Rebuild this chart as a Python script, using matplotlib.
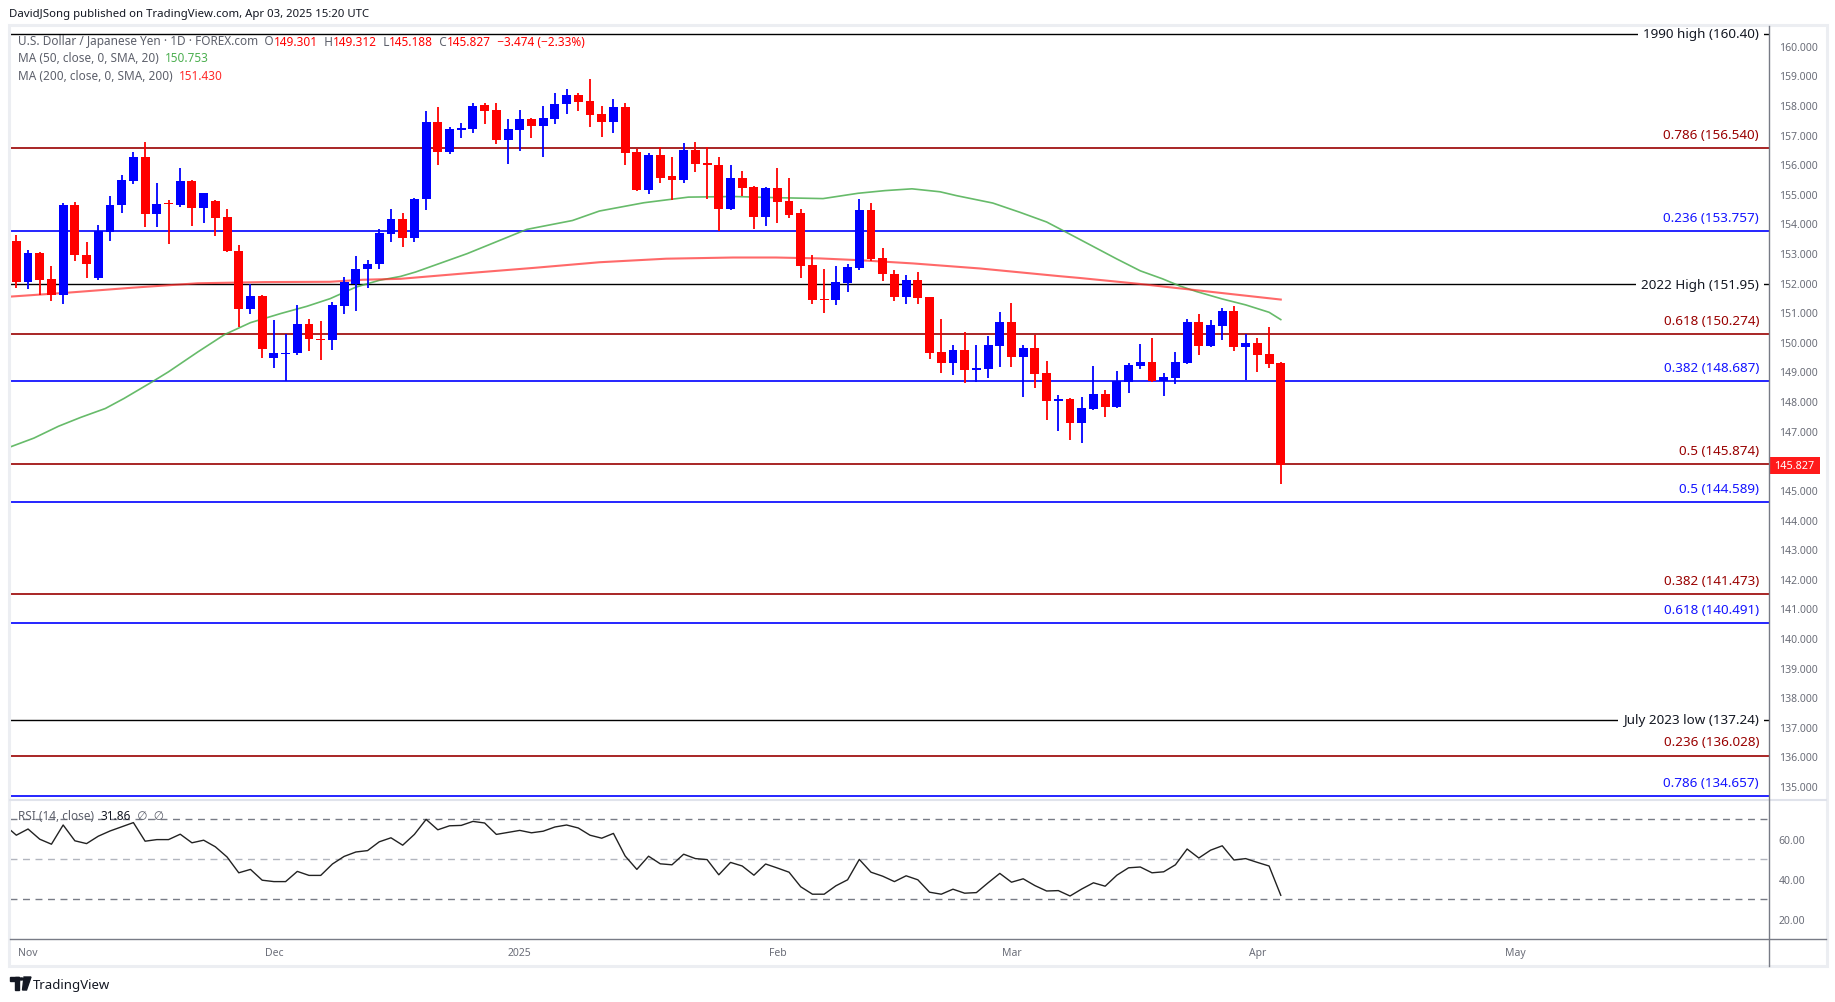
import numpy as np
import pandas as pd
import matplotlib
matplotlib.use('Agg')
import matplotlib.pyplot as plt
import matplotlib.transforms as mtransforms
from matplotlib.patches import Rectangle, Circle, Polygon
from matplotlib.lines import Line2D
from matplotlib.text import Annotation

plt.rcParams['font.family'] = ['Noto Sans', 'DejaVu Sans']

# daily USD/JPY candles, Oct 31 2024 .. Apr 03 2025 (FOREX.com, no bar on Dec 25 / Jan 1)
opens = [153.42, 152.01, 153.01, 152.14, 151.60, 154.63, 152.94, 152.15, 153.70, 154.61,
         155.44, 156.25, 154.33, 154.66, 154.63, 155.44, 154.51, 154.76, 154.23, 153.08,
         151.10, 151.56, 149.45, 149.60, 149.61, 150.62, 150.11, 150.06, 151.20, 151.97,
         152.45, 152.62, 153.65, 154.16, 153.50, 154.81, 157.43, 156.41, 157.17, 157.19,
         158.00, 157.83, 156.83, 157.17, 157.54, 157.30, 157.54, 158.02, 158.34, 158.12,
         157.70, 157.43, 157.93, 156.42, 155.14, 156.32, 155.60, 155.47, 156.48, 156.05,
         155.98, 154.50, 155.54, 155.24, 154.23, 155.20, 154.76, 154.34, 152.59, 151.42,
         151.41, 151.98, 152.50, 154.44, 152.82, 152.31, 151.51, 152.08, 151.51, 149.65,
         149.28, 149.71, 149.05, 149.08, 149.86, 150.66, 149.49, 149.81, 148.95, 147.99,
         148.08, 147.25, 147.75, 148.25, 147.79, 148.63, 149.20, 149.33, 148.69, 148.79,
         149.29, 150.68, 149.87, 150.54, 151.05, 149.83, 149.97, 149.60, 149.301]
highs = [153.62, 153.11, 153.05, 152.55, 154.70, 154.73, 153.38, 153.96, 154.93, 155.64,
         156.42, 156.76, 155.37, 154.80, 155.88, 155.47, 155.03, 154.79, 154.50, 153.26,
         151.96, 151.58, 150.75, 150.26, 151.23, 150.79, 150.72, 151.36, 152.20, 152.89,
         152.78, 153.82, 154.50, 154.36, 154.87, 157.80, 157.94, 157.27, 157.38, 158.06,
         158.06, 158.06, 157.53, 157.83, 157.56, 157.96, 158.41, 158.55, 158.41, 158.88,
         157.98, 158.20, 158.07, 156.52, 156.38, 156.58, 156.25, 156.72, 156.75, 156.58,
         156.25, 155.98, 155.78, 155.26, 155.24, 155.88, 155.54, 154.48, 152.92, 152.45,
         152.55, 152.62, 154.82, 154.68, 153.16, 152.42, 152.25, 152.35, 151.53, 150.76,
         149.88, 150.32, 149.91, 150.19, 151.00, 151.33, 149.88, 150.22, 149.35, 148.21,
         148.10, 148.15, 149.19, 148.38, 149.02, 149.30, 149.94, 150.14, 148.96, 149.67,
         150.78, 150.95, 150.75, 151.15, 151.22, 150.27, 150.14, 150.51, 149.312]
lows = [151.83, 151.80, 151.60, 151.37, 151.29, 152.72, 152.17, 152.10, 153.42, 154.36,
        155.35, 153.87, 153.87, 153.29, 154.54, 153.93, 154.00, 153.56, 153.02, 150.49,
        150.93, 149.47, 149.11, 148.69, 149.55, 149.69, 149.38, 149.72, 150.93, 151.03,
        151.81, 152.47, 153.36, 153.19, 153.36, 154.44, 155.96, 156.35, 156.90, 157.06,
        157.36, 156.70, 156.02, 156.46, 156.90, 156.25, 157.36, 157.70, 157.79, 157.26,
        156.93, 157.06, 155.96, 155.10, 155.00, 155.37, 154.78, 155.37, 155.74, 154.83,
        153.73, 154.47, 154.93, 153.80, 153.92, 154.02, 154.19, 152.15, 151.28, 150.97,
        151.25, 151.67, 152.42, 152.72, 152.04, 151.38, 151.28, 151.28, 149.42, 148.95,
        148.88, 148.61, 148.64, 148.78, 149.14, 149.15, 148.13, 148.44, 147.35, 146.98,
        146.67, 146.57, 147.69, 147.45, 147.76, 148.29, 149.10, 148.63, 148.18, 148.59,
        149.27, 149.56, 149.84, 150.07, 149.70, 148.72, 148.99, 149.13, 145.188]
closes = [152.01, 153.01, 152.10, 151.60, 154.63, 152.92, 152.62, 153.74, 154.63, 155.47,
          156.25, 154.33, 154.66, 154.65, 155.44, 154.51, 155.03, 154.20, 153.06, 151.10,
          151.56, 149.75, 149.61, 149.62, 150.62, 150.09, 150.07, 151.23, 152.01, 152.47,
          152.64, 153.69, 154.16, 153.50, 154.83, 157.43, 156.43, 157.19, 157.24, 157.98,
          157.81, 156.83, 157.19, 157.52, 157.30, 157.56, 158.02, 158.34, 158.10, 157.67,
          157.44, 157.93, 156.39, 155.14, 156.32, 155.53, 155.47, 156.48, 156.02, 155.96,
          154.50, 155.54, 155.21, 154.23, 155.20, 154.74, 154.29, 152.56, 151.41, 151.40,
          152.01, 152.52, 154.44, 152.79, 152.29, 151.51, 152.08, 151.48, 149.62, 149.28,
          149.71, 149.05, 149.11, 149.88, 150.66, 149.49, 149.81, 148.91, 148.00, 148.08,
          147.25, 147.78, 148.25, 147.79, 148.68, 149.23, 149.33, 148.69, 148.82, 149.33,
          150.68, 149.87, 150.58, 151.05, 149.83, 149.97, 149.56, 149.26, 145.827]

# moving averages as (bar, value) pairs
ma50_bar = [-0.6, 1.5, 3.6, 5.5, 7.6, 9.2, 11.6, 13.0, 15.5, 17.8, 20.0, 22.6, 24.8, 26.8,
            29.0, 31.0, 32.8, 34.1, 38.5, 43.6, 47.5, 49.8, 53.6, 57.4, 61.3, 65.1, 68.9,
            71.9, 74.2, 76.5, 78.9, 80.3, 83.4, 85.7, 88.0, 89.5, 91.8, 94.0, 96.0, 97.9,
            99.3, 100.8, 103.0, 105.0, 107.0, 108.0]
ma50_val = [146.44, 146.75, 147.15, 147.45, 147.75, 148.09, 148.65, 148.99, 149.66, 150.25,
            150.65, 150.96, 151.20, 151.46, 151.85, 152.08, 152.21, 152.36, 152.98, 153.80,
            154.10, 154.42, 154.70, 154.89, 154.91, 154.87, 154.84, 155.02, 155.11, 155.17,
            155.07, 154.94, 154.69, 154.38, 154.05, 153.74, 153.26, 152.80, 152.40, 152.13,
            151.90, 151.70, 151.45, 151.25, 151.00, 150.753]
ma200_bar = [-0.5, 4.3, 9.9, 15.5, 21.2, 26.8, 29.6, 32.8, 38.5, 44.2, 49.8, 55.5, 61.2,
             64.9, 68.6, 72.0, 76.6, 82.3, 89.1, 90.8, 95.9, 101.6, 108.0]
ma200_val = [151.53, 151.66, 151.83, 151.98, 152.02, 152.03, 152.10, 152.13, 152.32, 152.50,
             152.69, 152.81, 152.85, 152.85, 152.82, 152.76, 152.65, 152.48, 152.22, 152.16,
             151.96, 151.71, 151.43]

# RSI(14), first value belongs to the bar before Oct 31
rsi = [67.0,
       61.9, 65.0, 59.9, 57.4, 67.0, 59.1, 57.7, 61.4, 64.0, 66.1,
       68.2, 58.9, 59.7, 59.7, 62.4, 58.1, 59.4, 56.1, 51.0, 43.1,
       44.8, 39.4, 38.7, 38.7, 43.8, 41.8, 41.8, 47.5, 51.3, 53.5,
       54.2, 58.6, 60.6, 56.9, 62.3, 69.8, 64.6, 66.6, 66.8, 68.8,
       68.0, 62.3, 63.3, 64.3, 63.1, 63.9, 66.0, 67.0, 65.5, 61.9,
       60.4, 62.8, 51.5, 44.8, 51.4, 47.6, 47.1, 52.4, 50.2, 49.7,
       42.1, 48.3, 46.5, 41.9, 47.5, 45.5, 43.4, 36.1, 32.4, 32.4,
       36.6, 39.6, 49.8, 43.4, 41.4, 38.7, 41.6, 39.6, 33.4, 32.4,
       34.9, 32.9, 33.2, 38.1, 42.8, 38.4, 40.1, 36.7, 34.0, 34.2,
       31.5, 35.0, 38.1, 36.4, 41.9, 45.6, 46.0, 43.1, 43.6, 47.1,
       55.0, 50.5, 54.4, 56.6, 49.5, 50.2, 48.3, 46.5, 31.86]

fib_levels = [156.540, 153.757, 150.274, 148.687, 145.874, 144.589, 141.473, 140.491, 136.028, 134.657]
fib_ratios = ['0.786', '0.236', '0.618', '0.382', '0.5', '0.5', '0.382', '0.618', '0.236', '0.786']
fib_set = ['a', 'b', 'a', 'b', 'a', 'b', 'a', 'b', 'a', 'b']
key_levels = [160.40, 151.95, 137.24]
key_names = ['1990 high', '2022 High', 'July 2023 low']

month_labels = ['Nov', 'Dec', '2025', 'Feb', 'Mar', 'Apr', 'May']
month_starts = ['2024-11-01', '2024-12-02', '2025-01-02', '2025-02-03', '2025-03-03', '2025-04-01', '2025-05-01']

# trading calendar used for the bar index
cal = pd.bdate_range('2024-10-31', '2025-06-30')
cal = cal.drop(pd.to_datetime(['2024-12-25', '2025-01-01']))
month_pos = [cal.searchsorted(pd.Timestamp(d)) for d in month_starts]

W, H = 1835, 1003
UP, DOWN = '#0000ff', '#ff0000'
FIB_COL = {'a': '#990000', 'b': '#0000ff'}
GRAY = '#6a6d78'


def fx(x):
    return x / W


def fy(y):
    return 1 - y / H


fig = plt.figure(figsize=(W / 100, H / 100), dpi=100)
fig.patch.set_facecolor('white')

ax = fig.add_axes([fx(10), fy(800), fx(1769) - fx(10), fy(27) - fy(800)])
rx = fig.add_axes([fx(10), fy(940), fx(1769) - fx(10), fy(801) - fy(940)], sharex=ax)

# candles
o = np.array(opens)
c = np.array(closes)
hi = np.array(highs)
lo = np.array(lows)
xs = np.arange(len(o))
cols = np.where(c >= o, UP, DOWN)
ax.vlines(xs, lo, hi, colors=cols, linewidth=1.3, zorder=4)
body_lo = np.minimum(o, c)
body_h = np.maximum(np.abs(c - o), 0.04)
ax.bar(xs, body_h, bottom=body_lo, width=0.76, color=cols, linewidth=0, zorder=5)

# moving averages
ax.plot(ma50_bar, ma50_val, color='#4caf50', lw=1.2, alpha=0.85, zorder=3)
ax.plot(ma200_bar, ma200_val, color='#ff2a2a', lw=1.5, alpha=0.7, zorder=3)

# horizontal levels
lab_x = (1759 - 10) / (1769 - 10)
trans = mtransforms.blended_transform_factory(ax.transAxes, ax.transData)
for lv, r, s in zip(fib_levels, fib_ratios, fib_set):
    ax.axhline(lv, color=FIB_COL[s], lw=1.2, zorder=2)
    ax.annotate(f'{r} ({lv:.3f})', xy=(lab_x, lv), xycoords=trans, xytext=(0, 9.8),
                textcoords='offset points', ha='right', va='center', fontsize=9.7,
                color=FIB_COL[s] if s == 'a' else '#1414ff', zorder=6)
for lv, name in zip(key_levels, key_names):
    ax.axhline(lv, color='black', lw=1.0, zorder=2)
    ax.text(lab_x, lv, f'{name} ({lv:.2f})', transform=trans, ha='right', va='center',
            fontsize=9.7, color='#131722', zorder=6,
            bbox=dict(boxstyle='square,pad=0.35', fc='white', ec='none'))

ax.set_xlim(-0.54, 149.7)
ax.set_ylim(134.56, 160.67)
ax.set_yticks(np.arange(135, 161))
ax.set_yticklabels([f'{v:.3f}' for v in np.arange(135, 161)])
ax.yaxis.tick_right()
ax.tick_params(axis='y', length=0, pad=7, labelsize=7.5, labelcolor=GRAY)
ax.tick_params(axis='x', length=0, labelbottom=False)
for sp in ax.spines.values():
    sp.set_visible(False)

# last price tag
ax.add_patch(Rectangle((1.0, closes[-1] - 0.29), 51 / 1759, 0.58, transform=trans,
                       facecolor='#ff1a1a', edgecolor='none', clip_on=False, zorder=10))
ax.text(1.0 + 25 / 1759, closes[-1], f'{closes[-1]:.3f}', transform=trans, ha='center',
        va='center', fontsize=7.8, color='white', fontweight='bold', zorder=11)

# RSI pane
rx.plot(np.arange(-1, len(rsi) - 1), rsi, color='#222222', lw=1.0, zorder=3)
for lv, col in [(70, '#787b86'), (50, '#b2b5be'), (30, '#787b86')]:
    rx.axhline(lv, color=col, lw=1.0, linestyle=(0, (5, 4)), zorder=2)
rx.set_ylim(10, 79.5)
rx.set_yticks([20, 40, 60])
rx.set_yticklabels(['20.00', '40.00', '60.00'])
rx.yaxis.tick_right()
rx.tick_params(axis='y', length=0, pad=7, labelsize=7.5, labelcolor=GRAY)
rx.set_xticks(month_pos)
rx.set_xticklabels(month_labels)
rx.tick_params(axis='x', length=0, pad=6, labelsize=7.5, labelcolor=GRAY)
for sp in rx.spines.values():
    sp.set_visible(False)

# frame, separators, axis line
fig.add_artist(Rectangle((fx(9), fy(967)), fx(1827) - fx(9), fy(26) - fy(967),
                         transform=fig.transFigure, fill=False, ec='#eceef2', lw=2.2))
fig.add_artist(Line2D([fx(10), fx(1826)], [fy(800.5), fy(800.5)], color='#e0e3eb', lw=1.5))
fig.add_artist(Line2D([fx(10), fx(1826)], [fy(940), fy(940)], color='#787b86', lw=1.0))
fig.add_artist(Line2D([fx(1769), fx(1769)], [fy(27), fy(967)], color='#787b86', lw=1.0))

# header and legends
fig.text(fx(9), fy(14), 'DavidJSong published on TradingView.com, Apr 03, 2025 15:20 UTC',
         fontsize=8.2, color='#131722', va='center', ha='left')


def chain(pieces, x, y, size=8.5):
    # legend pieces placed one after another
    t = fig.text(fx(x), fy(y), pieces[0][0], color=pieces[0][1], fontsize=size,
                 va='center', ha='left', zorder=8)
    for s, col in pieces[1:]:
        t = fig.add_artist(Annotation(s, xy=(1, 0), xycoords=t, xytext=(0, 0),
                                      textcoords='offset points', fontsize=size, color=col,
                                      ha='left', va='bottom', annotation_clip=False, zorder=8))
    return t


LG = '#5d606b'
chain([('U.S. Dollar / Japanese Yen · 1D · FOREX.com  O', LG), (f'{opens[-1]:.3f}', DOWN),
       ('  H', LG), (f'{highs[-1]:.3f}', DOWN), ('  L', LG), (f'{lows[-1]:.3f}', DOWN),
       ('  C', LG), (f'{closes[-1]:.3f}', DOWN),
       (f'  −{opens[-1] - closes[-1]:.3f} (−2.33%)', DOWN)], 18, 42)
chain([('MA (50, close, 0, SMA, 20)  ', LG), (f'{ma50_val[-1]:.3f}', '#4caf50')], 18, 59)
chain([('MA (200, close, 0, SMA, 200)  ', LG), (f'{ma200_val[-1]:.3f}', '#ff2a2a')], 18, 76)
chain([('RSI (14, close)  ', LG), (f'{rsi[-1]:.2f}', '#131722'), ('  ∅  ∅', LG)], 18, 816)

# footer logo
fig.add_artist(Rectangle((fx(10), fy(982)), fx(19) - fx(10), fy(978) - fy(982),
                         transform=fig.transFigure, color='#131722'))
fig.add_artist(Rectangle((fx(14.5), fy(991)), fx(18.5) - fx(14.5), fy(978) - fy(991),
                         transform=fig.transFigure, color='#131722'))
fig.add_artist(Circle((fx(21.5), fy(980)), 1.9 / W, transform=fig.transFigure, color='#131722'))
fig.add_artist(Polygon([(fx(24), fy(978)), (fx(31), fy(978)), (fx(26.5), fy(991)), (fx(22.5), fy(991))],
                       closed=True, transform=fig.transFigure, color='#131722'))
fig.text(fx(33), fy(985), 'TradingView', fontsize=9.5, color='#131722', va='center', ha='left')

fig.savefig('out.png', dpi=100)
